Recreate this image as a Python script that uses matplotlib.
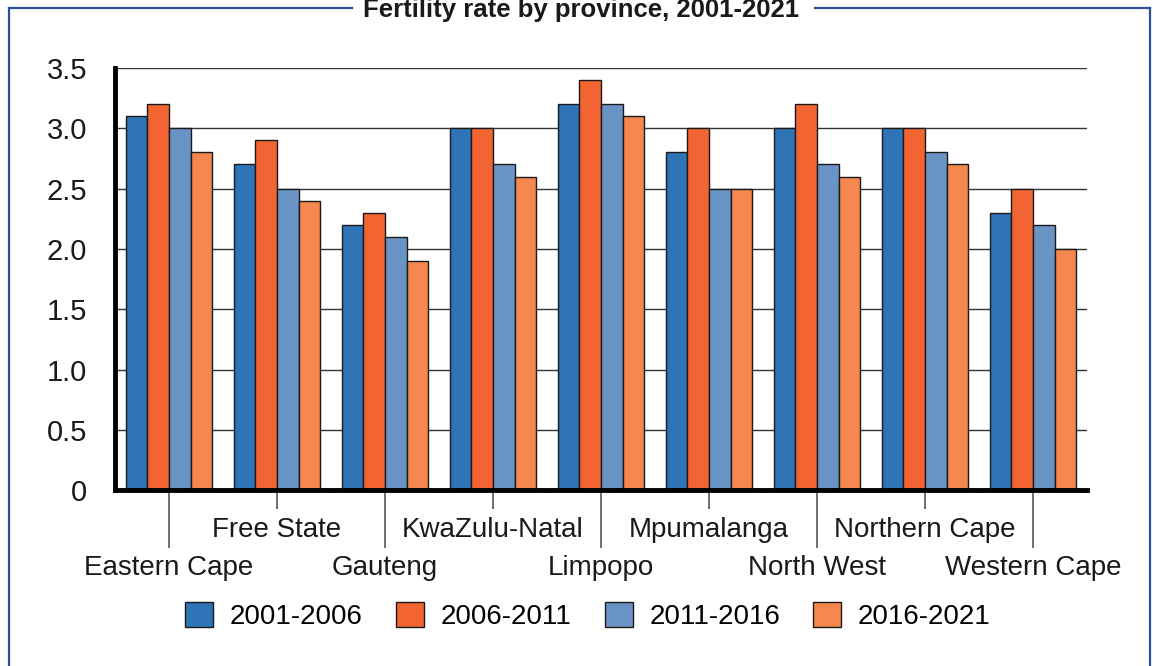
import matplotlib.pyplot as plt
from matplotlib.lines import Line2D
import numpy as np

plt.rcParams['font.family'] = ['Liberation Sans', 'DejaVu Sans']

provinces = ['Eastern Cape', 'Free State', 'Gauteng', 'KwaZulu-Natal', 'Limpopo',
             'Mpumalanga', 'North West', 'Northern Cape', 'Western Cape']
periods = ['2001-2006', '2006-2011', '2011-2016', '2016-2021']
r_2001_2006 = [3.1, 2.7, 2.2, 3.0, 3.2, 2.8, 3.0, 3.0, 2.3]
r_2006_2011 = [3.2, 2.9, 2.3, 3.0, 3.4, 3.0, 3.2, 3.0, 2.5]
r_2011_2016 = [3.0, 2.5, 2.1, 2.7, 3.2, 2.5, 2.7, 2.8, 2.2]
r_2016_2021 = [2.8, 2.4, 1.9, 2.6, 3.1, 2.5, 2.6, 2.7, 2.0]
series = [r_2001_2006, r_2006_2011, r_2011_2016, r_2016_2021]
colors = ['#2e74b7', '#f26431', '#6a93c6', '#f5874f']

fig = plt.figure(figsize=(11.53, 6.66), dpi=100)
ax = fig.add_axes([0.0997, 0.264, 0.843, 0.634])

x = np.arange(len(provinces))
w = 0.2
for i, (vals, c, lab) in enumerate(zip(series, colors, periods)):
    ax.bar(x + (i - 1.5) * w, vals, w, color=c, edgecolor='#1a1a1a',
           linewidth=1.0, label=lab, zorder=3)

ax.set_xlim(-0.5, 8.5)
ax.set_ylim(0, 3.5)
ax.set_yticks(np.arange(0, 3.51, 0.5))
ax.set_yticklabels(['0'] + ['%.1f' % v for v in np.arange(0.5, 3.51, 0.5)])
ax.yaxis.grid(True, color='#333333', linewidth=1.0, zorder=0)
ax.tick_params(axis='y', length=0, pad=20, labelsize=21, labelcolor='#1a1a1a')

# staggered category labels: even on major ticks (long), odd on minor (short)
ax.set_xticks(x[::2])
ax.set_xticklabels(provinces[::2])
ax.set_xticks(x[1::2], minor=True)
ax.set_xticklabels(provinces[1::2], minor=True)
ax.tick_params(axis='x', which='major', length=42, width=1.2, color='#555555',
               pad=5, labelsize=20, labelcolor='#1a1a1a')
ax.tick_params(axis='x', which='minor', length=14, width=1.2, color='#555555',
               pad=5, labelsize=20, labelcolor='#1a1a1a')

for s in ['top', 'right']:
    ax.spines[s].set_visible(False)
ax.spines['left'].set_linewidth(3.5)
ax.spines['bottom'].set_linewidth(3.5)
ax.spines['left'].set_zorder(5)
ax.spines['bottom'].set_zorder(5)

# outer frame with title in the top border
blue = '#2c4f9e'
H, W = 666.0, 1153.0
fig.add_artist(Line2D([9 / W, 9 / W], [0, 1 - 8 / H], color=blue, lw=1.6))
fig.add_artist(Line2D([9 / W, 352 / W], [1 - 8 / H, 1 - 8 / H], color=blue, lw=1.6))
fig.add_artist(Line2D([815 / W, 1150 / W], [1 - 8 / H, 1 - 8 / H], color=blue, lw=1.6))
fig.add_artist(Line2D([1150 / W, 1150 / W], [0, 1 - 8 / H], color=blue, lw=1.6))
fig.text(581 / W, 1 - 10 / H, 'Fertility rate by province, 2001-2021', ha='center',
         va='center', fontsize=18.5, fontweight='bold', color='#1a1a1a')

fig.legend(loc='center', bbox_to_anchor=(588 / W, 1 - 616 / H), ncol=4,
           frameon=False, fontsize=20, handlelength=1.0, handleheight=1.0,
           columnspacing=1.2, handletextpad=0.6)

fig.savefig('out.png', dpi=100)
